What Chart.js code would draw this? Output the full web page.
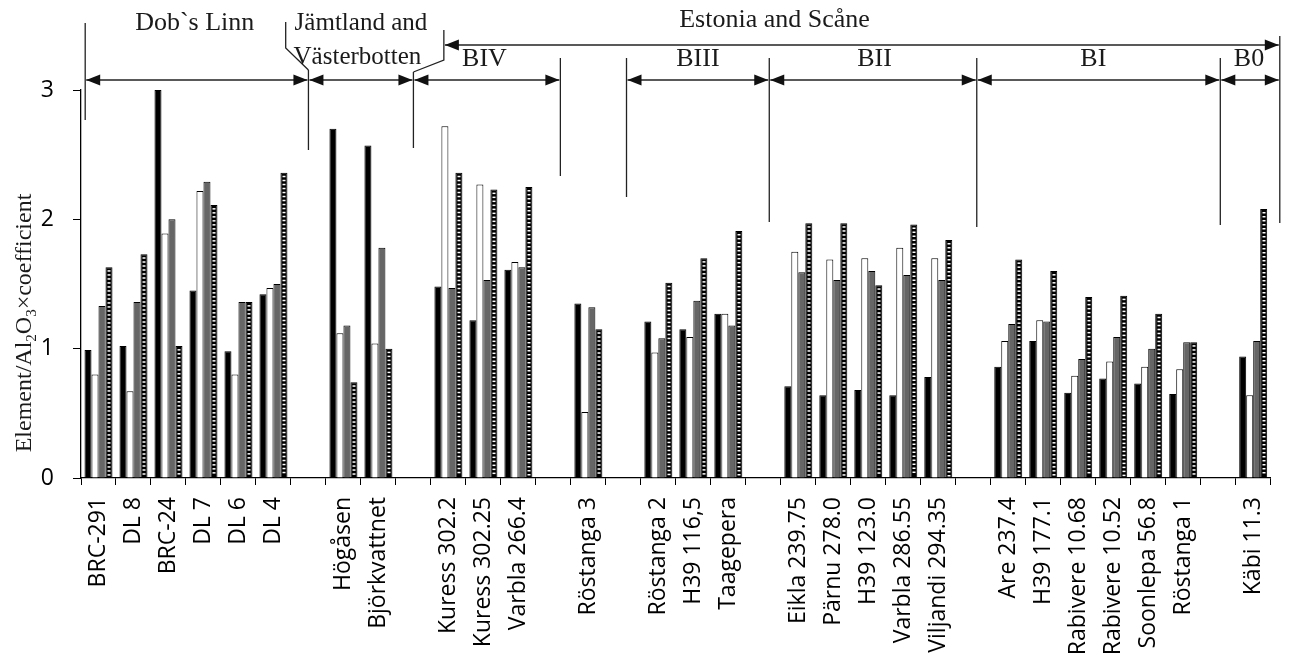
<!DOCTYPE html>
<html>
<head>
<meta charset="utf-8">
<script src="https://cdn.jsdelivr.net/npm/chart.js@4/dist/chart.umd.min.js"></script>
<style>
  html, body { margin: 0; padding: 0; background: #fff; }
  #wrap { width: 1293px; height: 661px; position: relative; }
</style>
</head>
<body>
<div id="wrap"><canvas id="chart" width="1293" height="661"></canvas></div>
<script>
// categories ('' = empty spacer slot between sections)
const labels = ['BRC-291', 'DL 8', 'BRC-24', 'DL 7', 'DL 6', 'DL 4', '',
  'Högåsen', 'Björkvattnet', '',
  'Kuress 302.2', 'Kuress 302.25', 'Varbla 266.4', '',
  'Röstanga 3', '',
  'Röstanga 2', 'H39 116,5', 'Taagepera', '',
  'Eikla 239.75', 'Pärnu 278.0', 'H39 123.0', 'Varbla 286.55', 'Viljandi 294.35', '',
  'Are 237.4', 'H39 177.1', 'Rabivere 10.68', 'Rabivere 10.52', 'Soonlepa 56.8', 'Röstanga 1', '',
  'Käbi 11.3'];

const blackVals = [0.99, 1.02, 3.00, 1.45, 0.98, 1.42, null,
  2.70, 2.57, null,
  1.48, 1.22, 1.61, null,
  1.35, null,
  1.21, 1.15, 1.27, null,
  0.71, 0.64, 0.68, 0.64, 0.78, null,
  0.86, 1.06, 0.66, 0.77, 0.73, 0.65, null,
  0.94];
const whiteVals = [0.80, 0.67, 1.89, 2.22, 0.80, 1.47, null,
  1.12, 1.04, null,
  2.72, 2.27, 1.67, null,
  0.51, null,
  0.97, 1.09, 1.27, null,
  1.75, 1.69, 1.70, 1.78, 1.70, null,
  1.06, 1.22, 0.79, 0.90, 0.86, 0.84, null,
  0.64];
const grayVals = [1.33, 1.36, 2.00, 2.29, 1.36, 1.50, null,
  1.18, 1.78, null,
  1.47, 1.53, 1.63, null,
  1.32, null,
  1.08, 1.37, 1.18, null,
  1.59, 1.53, 1.60, 1.57, 1.53, null,
  1.19, 1.21, 0.92, 1.09, 1.00, 1.05, null,
  1.06];
const dottedVals = [1.63, 1.73, 1.02, 2.11, 1.36, 2.36, null,
  0.74, 1.00, null,
  2.36, 2.23, 2.25, null,
  1.15, null,
  1.51, 1.70, 1.91, null,
  1.97, 1.97, 1.49, 1.96, 1.84, null,
  1.69, 1.60, 1.40, 1.41, 1.27, 1.05, null,
  2.08];

const yTicks = [0, 1, 2, 3];

// section brackets above the plot, positions in category-index units
const sectionNames = ['Dob`s Linn', 'BIV', 'BIII', 'BII', 'BI', 'B0'];
const sectionCenters = [2.75, 11.03, 17.13, 22.18, 28.43, 32.88];
const sectionSpans = [[-0.38, 6.0], [6.0, 9.0], [9.0, 13.2], [15.09, 19.17], [19.17, 25.1], [25.1, 32.06], [32.06, 33.76]];
const dividerAt = [-0.38, 6.0, 9.0, 13.2, 15.09, 19.17, 25.1, 32.06, 33.76];
const dividerBottom = [120, 150, 148, 176, 197, 222, 227, 225, 223];
const dividerTop = [23, 70, 72, 58, 58, 58, 58, 58, 36];

const bracketPlugin = {
  id: 'brackets',
  afterDatasetsDraw(chart) {
    // white dashes on the patterned series
    const ctx = chart.ctx;
    const meta = chart.getDatasetMeta(3);
    ctx.save();
    ctx.fillStyle = '#fff';
    meta.data.forEach(function(bar) {
      if (bar.skip || isNaN(bar.y)) return;
      for (let yy = bar.y + 3; yy < bar.base - 2; yy += 4) {
        ctx.fillRect(Math.round(bar.x) - 1.5, yy, 3, 1.5);
      }
    });
    ctx.restore();
  },
  afterDraw(chart) {
    const ctx = chart.ctx;
    const xs = chart.scales.x;
    const px = function(v) { return xs.getPixelForValue(v); };

    function arrowHead(x, y, dir) {
      ctx.beginPath();
      ctx.moveTo(x, y);
      ctx.lineTo(x + dir * 14, y - 5.5);
      ctx.lineTo(x + dir * 14, y + 5.5);
      ctx.closePath();
      ctx.fill();
    }
    function line(pts) {
      ctx.beginPath();
      ctx.moveTo(pts[0][0], pts[0][1]);
      for (let i = 1; i < pts.length; i++) ctx.lineTo(pts[i][0], pts[i][1]);
      ctx.stroke();
    }

    ctx.save();
    ctx.strokeStyle = '#222';
    ctx.fillStyle = '#111';
    ctx.lineWidth = 1.3;

    // divider lines
    dividerAt.forEach(function(v, i) {
      const x = px(v);
      line([[x, dividerTop[i]], [x, dividerBottom[i]]]);
    });
    // Jämtland and Västerbotten bracket slants
    line([[px(5.35), 22], [px(5.35), 48], [px(6.0), 70]]);
    line([[px(9.87), 30], [px(9.87), 60], [px(9.0), 72]]);

    // double arrows
    const yA = 80;
    sectionSpans.forEach(function(s) {
      const a = px(s[0]) + 1, b = px(s[1]) - 1;
      line([[a, yA], [b, yA]]);
      arrowHead(a, yA, 1);
      arrowHead(b, yA, -1);
    });
    // Estonia and Scåne arrow
    const yE = 45;
    const ea = px(9.9), eb = px(33.76) - 1;
    line([[ea, yE], [eb, yE]]);
    arrowHead(ea, yE, 1);
    arrowHead(eb, yE, -1);

    // texts
    ctx.fillStyle = '#1a1a1a';
    ctx.font = '26px "Liberation Serif", serif';
    ctx.textAlign = 'center';
    ctx.textBaseline = 'middle';
    ctx.fillText(sectionNames[0], px(sectionCenters[0]), 23);
    for (let i = 1; i < sectionNames.length; i++) {
      ctx.fillText(sectionNames[i], px(sectionCenters[i]), 59);
    }
    ctx.font = '25px "Liberation Serif", serif';
    ctx.fillText('Jämtland and', px(7.5), 23);
    ctx.fillText('Västerbotten', px(7.4), 57);
    ctx.font = '26px "Liberation Serif", serif';
    ctx.fillText('Estonia and Scåne', px(19.32), 20);

    // y axis title with subscripts
    const parts = [['Element/Al', false], ['2', true], ['O', false], ['3', true], ['×coefficient', false]];
    const big = '24px "Liberation Serif", serif', small = '15px "Liberation Serif", serif';
    let total = 0;
    parts.forEach(function(p) { ctx.font = p[1] ? small : big; total += ctx.measureText(p[0]).width; });
    ctx.translate(25, 323);
    ctx.rotate(-Math.PI / 2);
    ctx.textAlign = 'left';
    ctx.textBaseline = 'middle';
    let cx = -total / 2;
    parts.forEach(function(p) {
      ctx.font = p[1] ? small : big;
      ctx.fillText(p[0], cx, p[1] ? 7 : 0);
      cx += ctx.measureText(p[0]).width;
    });
    ctx.restore();
  }
};

new Chart(document.getElementById('chart'), {
  type: 'bar',
  data: {
    labels: labels,
    datasets: [
      { label: 'Series 1', data: blackVals, backgroundColor: '#000', borderColor: '#000', borderWidth: 1 },
      { label: 'Series 2', data: whiteVals, backgroundColor: '#fff', borderColor: '#000', borderWidth: 1 },
      { label: 'Series 3', data: grayVals, backgroundColor: '#666', borderColor: '#000', borderWidth: 1 },
      { label: 'Series 4', data: dottedVals, backgroundColor: '#000', borderColor: '#000', borderWidth: 1 }
    ]
  },
  options: {
    responsive: false,
    animation: false,
    layout: { padding: { left: 0, right: 14, top: 90, bottom: 0 } },
    datasets: { bar: { categoryPercentage: 0.8, barPercentage: 1.0 } },
    plugins: { legend: { display: false }, tooltip: { enabled: false } },
    scales: {
      x: {
        grid: { drawOnChartArea: false, drawTicks: true, tickLength: 7, color: '#000', offset: true },
        border: { display: true, color: '#000', width: 1.3 },
        ticks: {
          autoSkip: false, maxRotation: 90, minRotation: 90, padding: 12,
          color: '#000', font: { family: '"Open Sans", sans-serif', size: 23 }
        },
        afterFit: function(s) { s.height = 183; }
      },
      y: {
        min: 0, max: 3,
        afterBuildTicks: function(s) { s.ticks = yTicks.map(function(v) { return { value: v }; }); },
        grid: { drawOnChartArea: false, drawTicks: true, tickLength: 8, color: '#000' },
        border: { display: true, color: '#000', width: 1.3 },
        ticks: { padding: 19, color: '#000', font: { family: '"Open Sans", sans-serif', size: 23 } },
        afterFit: function(s) { s.width = 81; }
      }
    }
  },
  plugins: [bracketPlugin]
});
</script>
</body>
</html>
